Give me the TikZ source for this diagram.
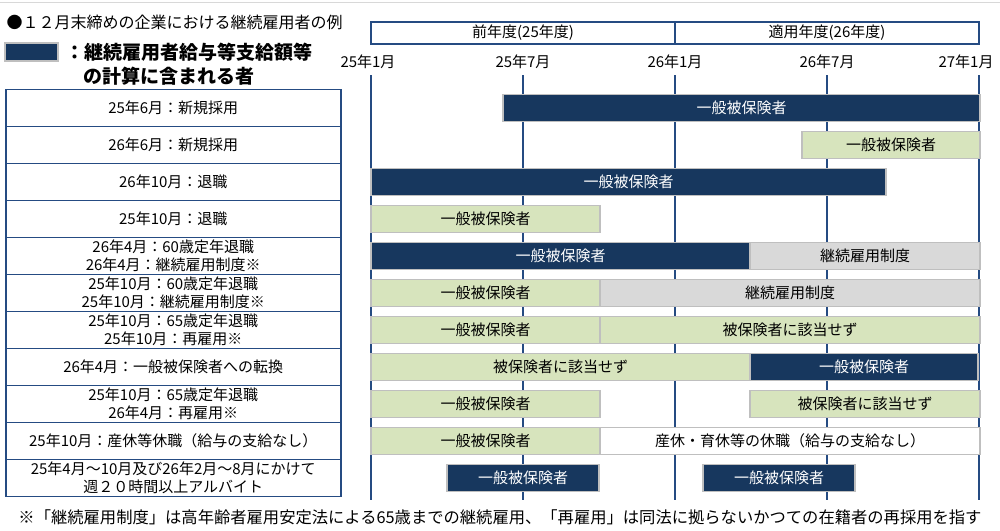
\documentclass[tikz,border=0pt]{standalone}
\usepackage{fontspec}
\setmainfont{Noto Sans CJK JP}
\usepackage{xcolor}
\usepackage{tikz}
\usetikzlibrary{shapes}
\usetikzlibrary{positioning}
\definecolor{navy}{HTML}{17375E}
\definecolor{rulecol}{HTML}{254B82}
\definecolor{lgreen}{HTML}{D7E4BD}
\definecolor{lgray}{HTML}{D9D9D9}
\definecolor{edgegray}{HTML}{BFBFBF}

\begin{document}
\begin{tikzpicture}[
	x=1pt,y=-1pt,
	font=\fontsize{15}{18}\selectfont
]
\tikzset{
    rowbox/.style = {rectangle, draw=rulecol, line width=1.5pt, align=center, anchor=west, fill=white, minimum width=335pt, minimum height=37pt, inner sep=0pt},
    barbox/.style = {rectangle, draw=edgegray, line width=1.5pt, align=center, anchor=west, minimum height=27pt, inner sep=0pt, outer sep=0pt},
    navybar/.style = {barbox, fill=navy, text=white},
    greenbar/.style = {barbox, fill=lgreen},
    graybar/.style = {barbox, fill=lgray},
    whitebar/.style = {barbox, fill=white},
    hdbox/.style = {rectangle, draw=rulecol, line width=1.5pt, align=center, anchor=west, minimum width=304pt, minimum height=22pt, outer sep=0pt},
    gridline/.style = {draw=rulecol, line width=2.5pt}
}
\useasboundingbox (0,0) rectangle (1000,530);
\draw[edgegray!60, line width=1pt] (0,2) -- (1000,2);
\node[anchor=west, font=\fontsize{16}{18}\selectfont] (title) at (3,22) {●１２月末締めの企業における継続雇用者の例};
\node[navybar, minimum width=53pt, minimum height=18pt] (legbox) at (5,52) {};
\node[anchor=west, inner sep=0pt, font=\fontsize{19}{22}\selectfont\bfseries] (legtxt) at (65,52) {：継続雇用者給与等支給額等};
\node[anchor=west, inner sep=0pt, font=\fontsize{19}{22}\selectfont\bfseries] (legtxtb) at (83,76) {の計算に含まれる者};
\node[hdbox] (prev) at (371,33) {前年度(25年度)};
\node[hdbox, right=0pt of prev] (cur) {適用年度(26年度)};
\node[] (m1) at (368,62) {25年1月};
\node[] (m2) at (523,62) {25年7月};
\node[] (m3) at (675,62) {26年1月};
\node[] (m4) at (827,62) {26年7月};
\node[inner sep=1pt] (m5) at (966,62) {27年1月};
\draw[gridline] (371,75) -- (371,500);
\draw[gridline] (523,75) -- (523,500);
\draw[gridline] (675,75) -- (675,500);
\draw[gridline] (827,75) -- (827,500);
\draw[gridline] (979,75) -- (979,500);
\node[rowbox] (r1) at (5,108) {25年6月：新規採用};
\node[rowbox] (r2) at (5,145) {26年6月：新規採用};
\node[rowbox] (r3) at (5,182) {26年10月：退職};
\node[rowbox] (r4) at (5,219) {25年10月：退職};
\node[rowbox] (r5) at (5,256) {26年4月：60歳定年退職\\26年4月：継続雇用制度※};
\node[rowbox] (r6) at (5,293) {25年10月：60歳定年退職\\25年10月：継続雇用制度※};
\node[rowbox] (r7) at (5,330) {25年10月：65歳定年退職\\25年10月：再雇用※};
\node[rowbox] (r8) at (5,367) {26年4月：一般被保険者への転換};
\node[rowbox] (r9) at (5,404) {25年10月：65歳定年退職\\26年4月：再雇用※};
\node[rowbox] (r10) at (5,441) {25年10月：産休等休職（給与の支給なし）};
\node[rowbox] (r11) at (5,478) {25年4月～10月及び26年2月～8月にかけて\\週２０時間以上アルバイト};
\node[navybar, minimum width=477pt] (b1) at (503,108) {一般被保険者};
\node[greenbar, minimum width=178pt] (b2) at (802,145) {一般被保険者};
\node[navybar, minimum width=515pt] (b3) at (371,182) {一般被保険者};
\node[greenbar, minimum width=229pt] (b4) at (371,219) {一般被保険者};
\node[navybar, minimum width=379pt] (b5a) at (371,256) {一般被保険者};
\node[graybar, minimum width=230pt, right=0pt of b5a] (b5b) {継続雇用制度};
\node[greenbar, minimum width=229pt] (b6a) at (371,293) {一般被保険者};
\node[graybar, minimum width=380pt, right=0pt of b6a] (b6b) {継続雇用制度};
\node[greenbar, minimum width=229pt] (b7a) at (371,330) {一般被保険者};
\node[greenbar, minimum width=380pt, right=0pt of b7a] (b7b) {被保険者に該当せず};
\node[greenbar, minimum width=379pt] (b8a) at (371,367) {被保険者に該当せず};
\node[navybar, minimum width=228pt, right=0pt of b8a] (b8b) {一般被保険者};
\node[greenbar, minimum width=229pt] (b9a) at (371,404) {一般被保険者};
\node[greenbar, minimum width=230pt] (b9b) at (750,404) {被保険者に該当せず};
\node[greenbar, minimum width=229pt] (b10a) at (371,441) {一般被保険者};
\node[whitebar, minimum width=380pt, right=0pt of b10a] (b10b) {産休・育休等の休職（給与の支給なし）};
\node[navybar, minimum width=152pt] (b11a) at (447,478) {一般被保険者};
\node[navybar, minimum width=152pt] (b11b) at (703,478) {一般被保険者};
\node[font=\fontsize{16.3}{18}\selectfont] (note) at (500,517) {※「継続雇用制度」は高年齢者雇用安定法による65歳までの継続雇用、「再雇用」は同法に拠らないかつての在籍者の再採用を指す};
\end{tikzpicture}
\end{document}
